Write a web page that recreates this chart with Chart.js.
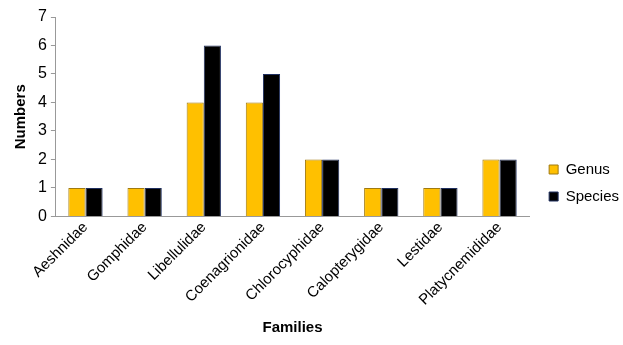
<!DOCTYPE html>
<html>
<head>
<meta charset="utf-8">
<script src="https://cdn.jsdelivr.net/npm/chart.js@4/dist/chart.umd.min.js"></script>
<style>
    html, body { margin: 0; padding: 0; background: #fff; }
    #wrap { width: 623px; height: 345px; }
</style>
</head>
<body>
<div id="wrap"><canvas id="myBar"></canvas></div>
<script>
const families = ['Aeshnidae', 'Gomphidae', 'Libellulidae', 'Coenagrionidae',
    'Chlorocyphidae', 'Calopterygidae', 'Lestidae', 'Platycnemididae'];
const genus = [1, 1, 4, 4, 2, 1, 1, 2];
const species = [1, 1, 6, 5, 2, 1, 1, 2];

Chart.defaults.font.family = "'Liberation Sans', Arial, sans-serif";
Chart.defaults.color = '#000';

// nudge the legend a bit to the right and down like the original
const legendShift = {
    id: 'legendShift',
    afterLayout(chart) {
        const lg = chart.legend;
        if (!lg) return;
        lg.left += 8;
        lg.right += 8;
        lg.top += 4;
        lg.bottom += 4;
    }
};

const barData = {
    labels: families,
    datasets: [{
        label: 'Genus',
        data: genus,
        backgroundColor: '#FFC000',
        borderColor: '#A07A10',
        borderWidth: 1
    }, {
        label: 'Species',
        data: species,
        backgroundColor: '#000000',
        borderColor: '#1F2F5F',
        borderWidth: 1
    }]
};

const barConfig = {
    type: 'bar',
    data: barData,
    plugins: [legendShift],
    options: {
        responsive: true,
        maintainAspectRatio: false,
        animation: false,
        layout: {
            padding: { left: 8, right: 2, top: 17, bottom: 4 }
        },
        datasets: {
            bar: {
                categoryPercentage: 0.58,
                barPercentage: 1
            }
        },
        plugins: {
            legend: {
                position: 'right',
                labels: {
                    boxWidth: 9,
                    boxHeight: 9,
                    padding: 12,
                    font: { size: 15 }
                }
            },
            tooltip: { enabled: false }
        },
        scales: {
            x: {
                grid: { display: false, drawTicks: false },
                border: { color: '#999', width: 1 },
                ticks: {
                    maxRotation: 45,
                    minRotation: 45,
                    padding: 2,
                    font: { size: 15 }
                },
                title: {
                    display: true,
                    text: 'Families',
                    font: { size: 15, weight: 'bold' },
                    padding: { top: 8, bottom: 4 }
                }
            },
            y: {
                min: 0,
                max: 7,
                ticks: {
                    stepSize: 1,
                    font: { size: 16 },
                    padding: 4
                },
                grid: {
                    display: true,
                    drawOnChartArea: false,
                    drawTicks: true,
                    tickLength: 5,
                    color: '#999'
                },
                border: { color: '#999', width: 1 },
                title: {
                    display: true,
                    text: 'Numbers',
                    font: { size: 15, weight: 'bold' },
                    padding: { bottom: 4 }
                }
            }
        }
    }
};

var myBar = new Chart(
    document.getElementById('myBar'),
    barConfig
);
</script>
</body>
</html>
